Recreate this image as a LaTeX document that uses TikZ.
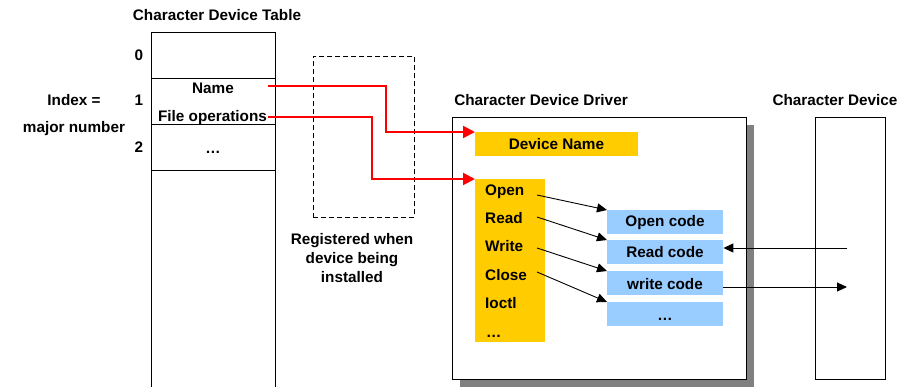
\documentclass[tikz,border=0pt]{standalone}
\usepackage{fontspec}
\setmainfont{Liberation Sans}
\usetikzlibrary{arrows.meta,calc}
\definecolor{cyellow}{HTML}{FFCC00}
\definecolor{cblue}{HTML}{99CCFF}
\definecolor{shadowgray}{HTML}{808080}
\begin{document}
\begin{tikzpicture}[x=1pt,y=-1pt,
  every node/.style={font=\fontsize{15.3}{18.5}\selectfont\bfseries, inner sep=0pt},
  lbl/.style={anchor=base},
  lblw/.style={anchor=base west},
  box/.style={draw=black, line width=1pt, fill=white},
  ybox/.style={fill=cyellow, anchor=north west},
  bbox/.style={fill=cblue, anchor=north west, minimum width=116pt, minimum height=24pt},
  redarr/.style={draw=red, line width=2pt, -{Triangle[length=12pt,width=12pt]}},
  blkarr/.style={draw=black, line width=0.9pt, -{Triangle[length=10pt,width=9pt]}}]
\useasboundingbox (0,0) rectangle (915,387);

% Character device table
\node[box, minimum width=124pt, minimum height=370pt, anchor=north west] (table) at (151,32) {};
\draw[line width=1pt] (table.west |- 0,79) -- (table.east |- 0,79);
\draw[line width=1pt] (table.west |- 0,125) -- (table.east |- 0,125);
\draw[line width=1pt] (table.west |- 0,171) -- (table.east |- 0,171);
\node[lbl] (ttitle) at (217,21) {Character Device Table};
\node[lbl] (i0) at (139,61) {0};
\node[lbl] (i1) at (139,106) {1};
\node[lbl] (i2) at (139,153) {2};
\node[lbl] (idx) at (74,106) {Index =};
\node[lbl] (major) at (74,133) {major number};
\node[lbl] (name) at (213,94) {Name};
\node[lbl] (fops) at (212.5,122) {File operations};
\node[lbl] (tdots) at (213,154) {…};

% registered box
\node[draw, dash pattern=on 5pt off 3pt, line width=0.8pt, minimum width=101pt, minimum height=161pt, anchor=north west] (reg) at (313,56) {};
\node[lbl] (reg1) at (352,245) {Registered when};
\node[lbl] (reg2) at (352,264) {device being};
\node[lbl] (reg3) at (352,282) {installed};

% Driver
\fill[shadowgray] (460,125) rectangle (754,387);
\node[box, minimum width=294pt, minimum height=262pt, anchor=north west] (drv) at (452,117) {};
\node[lbl] (drvtitle) at (541,106) {Character Device Driver};
\node[ybox, minimum width=163pt, minimum height=24pt] (devname) at (475,132) {};
\node[lbl] (devnametxt) at (556.5,150) {Device Name};
\node[ybox, minimum width=70pt, minimum height=163pt] (ops) at (475,179) {};
\node[lblw] (open) at (485,196) {Open};
\node[lblw] (read) at (485,224) {Read};
\node[lblw] (write) at (485,252) {Write};
\node[lblw] (close) at (485,280) {Close};
\node[lblw] (ioctl) at (485,308) {Ioctl};
\node[lblw] (odots) at (486,337) {…};

\node[bbox] (ocode) at (607,210) {};
\node[bbox] (rcode) at (607,240) {};
\node[bbox] (wcode) at (607,271) {};
\node[bbox] (dcode) at (607,302) {};
\node[lbl] (ocodetxt) at (665,227) {Open code};
\node[lbl] (rcodetxt) at (665,258) {Read code};
\node[lbl] (wcodetxt) at (665,289) {write code};
\node[lbl] (dcodetxt) at (665,320) {…};

% Character device
\node[box, minimum width=70pt, minimum height=262pt, anchor=north west] (cdev) at (815,117) {};
\node[lbl] (cdevtitle) at (835,106) {Character Device};

% red connectors
\coordinate (nameout) at (268,86);
\coordinate (fopsout) at (268,117);
\draw[redarr] (nameout) -- ++(118,0) |- (devname.north west);
\draw[redarr] (fopsout) -- ++(104,0) |- (ops.north west);

% black connectors
\coordinate (s1) at (537,195);
\coordinate (s2) at (537,217);
\coordinate (s3) at (537,248);
\coordinate (s4) at (537,272);
\draw[blkarr] (s1) -- (ocode.north west);
\draw[blkarr] (s2) -- (rcode.north west);
\draw[blkarr] (s3) -- (wcode.north west);
\draw[blkarr] (s4) -- (dcode.north west);

\coordinate (d1) at (847,248);
\coordinate (d2) at (847,287);
\draw[blkarr] (d1) -- (rcode.east |- d1);
\draw[blkarr] (wcode.east |- d2) -- (d2);
\end{tikzpicture}
\end{document}
